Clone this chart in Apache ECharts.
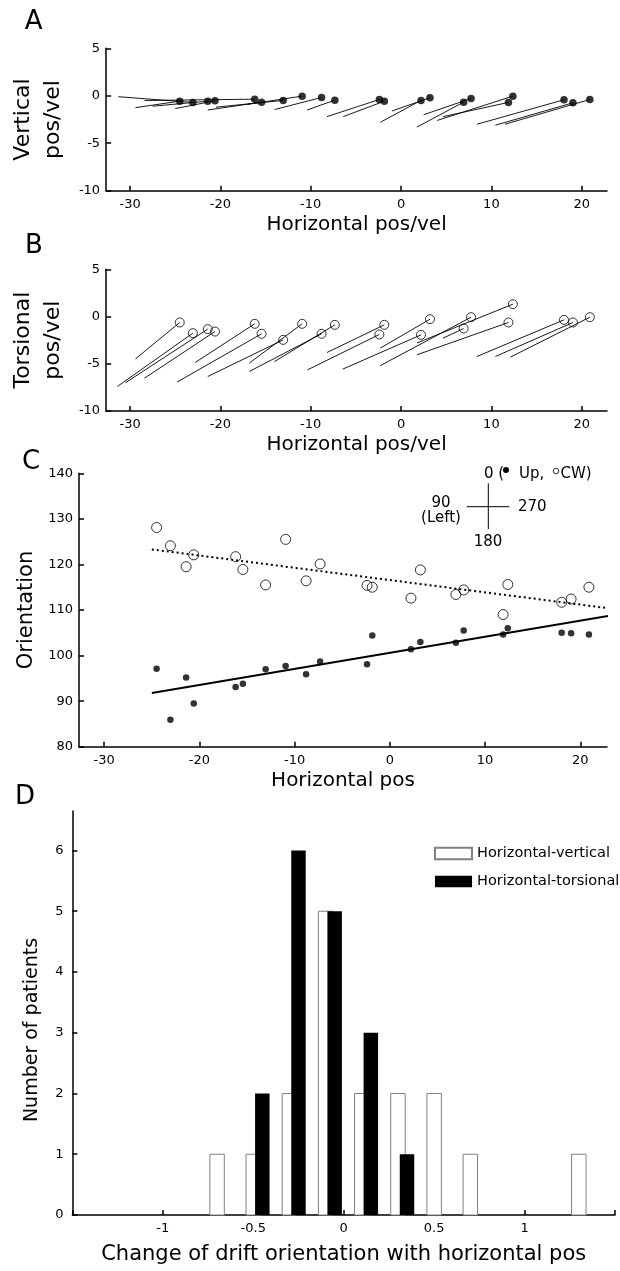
<!DOCTYPE html>
<html>
<head>
<meta charset="utf-8">
<script src="https://cdn.jsdelivr.net/npm/echarts@6/dist/echarts.min.js"></script>
<style>
  html, body { margin: 0; padding: 0; background: #fff; }
  #chart { width: 620px; height: 1271px; }
</style>
</head>
<body>
<div id="chart"></div>
<script>
// data

// horizontal eye position of each patient (shared by A, B, C)
const xPos = [-24.5, -23.05, -21.4, -20.6, -16.2, -15.44, -13.05, -10.95, -8.8, -7.33, -2.4,
              -1.85, 2.21, 3.2, 6.93, 7.75, 11.89, 12.38, 18.04, 19.03, 20.9];

// A: vertical drift, end point (dot) and start of the drift line
const aEndY = [-0.57, -0.70, -0.57, -0.53, -0.36, -0.67, -0.49, -0.04, -0.18, -0.46, -0.39,
               -0.57, -0.49, -0.21, -0.67, -0.28, -0.70, -0.04, -0.42, -0.74, -0.39];
const aStartX = [-29.4, -31.3, -27.5, -25.0, -28.4, -21.4, -20.5, -17.0, -14.0, -10.4, -8.2,
                 -6.4, -2.3, -1.0, 1.75, 2.5, 4.65, 4.0, 8.4, 10.45, 11.5];
const aStartY = [-1.25, -0.1, -1.1, -1.35, -0.5, -1.5, -1.2, -0.9, -1.45, -1.5, -2.2,
                 -2.2, -2.8, -1.6, -3.3, -2.0, -2.2, -2.6, -3.0, -3.1, -3.0];

// B: torsional drift
const bEndY = [-0.63, -1.76, -1.33, -1.59, -0.77, -1.83, -2.47, -0.77, -1.83, -0.88, -1.90,
               -0.88, -1.94, -0.28, -1.27, -0.07, -0.63, 1.31, -0.35, -0.63, -0.07];
const bStartX = [-29.4, -31.4, -30.5, -28.4, -22.8, -24.8, -21.4, -16.8, -16.8, -14.0, -10.35,
                 -8.2, -6.46, -2.3, 4.65, -2.3, 1.76, 1.76, 8.4, 10.45, 12.1];
const bStartY = [-4.48, -7.4, -7.0, -6.52, -4.87, -6.94, -6.35, -4.93, -5.82, -4.76, -5.64,
                 -3.81, -5.57, -3.35, -2.29, -5.2, -4.05, -2.8, -4.23, -4.23, -4.3];

// C: orientation
const cwOrient = [128.1, 124.1, 119.5, 122.1, 121.7, 118.9, 115.5, 125.5, 116.4, 120.1, 115.4,
                  115.0, 112.6, 118.8, 113.4, 114.4, 109.0, 115.6, 111.7, 112.4, 115.0];
const upOrient = [97.1, 85.9, 95.2, 89.5, 93.1, 93.8, 97.0, 97.7, 95.9, 98.7, 98.1,
                  104.4, 101.4, 103.0, 102.8, 105.5, 104.6, 106.0, 105.0, 104.9, 104.6];
const fitX = [-25.0, 22.9];
const upFitY = [91.8, 108.7];
const cwFitY = [123.3, 110.4];

// D: histogram of slopes
const hvBins = [-0.7, -0.5, -0.3, -0.1, 0.1, 0.3, 0.5, 0.7, 1.3];
const hvCounts = [1, 1, 2, 5, 2, 2, 2, 1, 1];
const htBins = [-0.45, -0.25, -0.05, 0.15, 0.35];
const htCounts = [2, 6, 5, 3, 1];

// tick labels
const posTicks = [-30, -20, -10, 0, 10, 20];
const driftTicks = [-10, -5, 0, 5];
const countTicks = [0, 1, 2, 3, 4, 5, 6];
const slopeLabels = [-1, -0.5, 0, 0.5, 1];
const slopeTicks = [-1.5, -1, -0.5, 0, 0.5, 1, 1.5];

// setup

const FONT = '"DejaVu Sans", sans-serif';
const BAR_W = 0.08;

const chart = echarts.init(document.getElementById("chart"), null, { renderer: "canvas" });

function axisBase(extra)
{
    const a = {
        axisLine: { onZero: false, lineStyle: { color: "#000", width: 1.5 } },
        axisTick: { inside: true, length: 5, lineStyle: { color: "#000", width: 1.5 } },
        axisLabel: { color: "#000", fontSize: 13, fontFamily: FONT, margin: 7 },
        splitLine: { show: false },
        nameTextStyle: { color: "#000", fontFamily: FONT, fontSize: 20 }
    };
    return Object.assign(a, extra);
}

function ticks(values)
{
    return { inside: true, length: 5, customValues: values, lineStyle: { color: "#000", width: 1.5 } };
}

function labels(values, margin)
{
    return { color: "#000", fontSize: 13, fontFamily: FONT, margin: margin, customValues: values };
}

function posAxis(idx, name)
{
    return axisBase({
        type: "value", gridIndex: idx, min: -32.65, max: 22.8,
        name: name, nameLocation: "middle", nameGap: 24,
        axisTick: ticks(posTicks),
        axisLabel: labels(posTicks, 7)
    });
}

function driftAxis(idx, name)
{
    return axisBase({
        type: "value", gridIndex: idx, min: -10, max: 5, interval: 5,
        name: name, nameLocation: "middle", nameRotate: 90, nameGap: 16,
        nameTextStyle: { color: "#000", fontFamily: FONT, fontSize: 22, lineHeight: 30 },
        axisTick: ticks(driftTicks),
        axisLabel: labels(driftTicks, 6)
    });
}

function driftLines(startX, startY, endY)
{
    return xPos.map(function (x, i)
    {
        return { coords: [[startX[i], startY[i]], [x, endY[i]]] };
    });
}

function pairs(xs, ys)
{
    return xs.map(function (x, i) { return [x, ys[i]]; });
}

function renderBar(params, api)
{
    const x = api.value(0);
    const y = api.value(1);
    const p0 = api.coord([x - BAR_W / 2, y]);
    const p1 = api.coord([x + BAR_W / 2, 0]);
    return {
        type: "rect",
        shape: { x: p0[0], y: p0[1], width: p1[0] - p0[0], height: p1[1] - p0[1] },
        style: api.style()
    };
}

const openCircle = { color: "rgba(0,0,0,0)", borderColor: "#000", borderWidth: 1 };

function label(text, x, y, size, align)
{
    return {
        type: "text", x: x, y: y,
        style: { text: text, fill: "#000", font: size + "px " + FONT, textAlign: align || "center", textVerticalAlign: "middle" }
    };
}

const option = {
    animation: false,
    backgroundColor: "#fff",
    textStyle: { fontFamily: FONT },
    grid: [
        { left: 79, right: 13, top: 48.3, height: 142.4 },
        { left: 79, right: 13, top: 269.3, height: 141.7 },
        { left: 79, right: 13, top: 473.3, height: 273.4 },
        { left: 72.4, right: 5, top: 811, height: 404 }
    ],
    xAxis: [
        posAxis(0, "Horizontal pos/vel"),
        posAxis(1, "Horizontal pos/vel"),
        posAxis(2, "Horizontal pos"),
        axisBase({
            type: "value", gridIndex: 3, min: -1.5, max: 1.5,
            name: "Change of drift orientation with horizontal pos", nameLocation: "middle", nameGap: 29,
            nameTextStyle: { color: "#000", fontFamily: FONT, fontSize: 21 },
            axisTick: ticks(slopeTicks),
            axisLabel: labels(slopeLabels, 7)
        })
    ],
    yAxis: [
        driftAxis(0, "Vertical\npos/vel"),
        driftAxis(1, "Torsional\npos/vel"),
        axisBase({
            type: "value", gridIndex: 2, min: 80, max: 140, interval: 10,
            name: "Orientation", nameLocation: "middle", nameRotate: 90, nameGap: 42,
            nameTextStyle: { color: "#000", fontFamily: FONT, fontSize: 21 },
            axisLabel: { color: "#000", fontSize: 13, fontFamily: FONT, margin: 6 }
        }),
        axisBase({
            type: "value", gridIndex: 3, min: 0, max: 6.65,
            name: "Number of patients", nameLocation: "middle", nameRotate: 90, nameGap: 31,
            nameTextStyle: { color: "#000", fontFamily: FONT, fontSize: 19, padding: [0, 34, 0, 0] },
            axisTick: ticks(countTicks),
            axisLabel: labels(countTicks, 9)
        })
    ],
    legend: {
        orient: "vertical", left: 429, top: 840, itemWidth: 37, itemHeight: 11.5, itemGap: 11,
        icon: "rect", selectedMode: false,
        textStyle: { color: "#000", fontFamily: FONT, fontSize: 14.5, lineHeight: 17 },
        data: ["Horizontal-vertical", "Horizontal-torsional"]
    },
    graphic: [
        label("A", 33.6, 22.5, 26),
        label("B", 34, 246.5, 26),
        label("C", 31, 462.5, 26),
        label("D", 25, 797, 26),
        // orientation key in C
        { type: "line", shape: { x1: 488.3, y1: 483.3, x2: 488.3, y2: 529 }, style: { stroke: "#000", lineWidth: 1 } },
        { type: "line", shape: { x1: 466.7, y1: 506.7, x2: 509.3, y2: 506.7 }, style: { stroke: "#000", lineWidth: 1 } },
        label("0 (", 484, 474, 15, "left"),
        { type: "circle", shape: { cx: 506, cy: 470, r: 3 }, style: { fill: "#000" } },
        label("Up,", 519, 474, 15, "left"),
        { type: "circle", shape: { cx: 556, cy: 471, r: 2.8 }, style: { fill: "none", stroke: "#000", lineWidth: 0.8 } },
        label("CW)", 560.5, 474, 15, "left"),
        label("90", 441, 503, 15),
        label("(Left)", 441, 518.5, 15),
        label("270", 518, 506.7, 15, "left"),
        label("180", 488, 541.7, 15)
    ],
    series: [
        {
            type: "lines", coordinateSystem: "cartesian2d", xAxisIndex: 0, yAxisIndex: 0, silent: true,
            lineStyle: { color: "#000", width: 0.9, opacity: 1, curveness: 0 },
            data: driftLines(aStartX, aStartY, aEndY)
        },
        {
            type: "scatter", xAxisIndex: 0, yAxisIndex: 0, symbolSize: 7.5,
            itemStyle: { color: "#000" }, data: pairs(xPos, aEndY)
        },
        {
            type: "lines", coordinateSystem: "cartesian2d", xAxisIndex: 1, yAxisIndex: 1, silent: true,
            lineStyle: { color: "#000", width: 0.9, opacity: 1, curveness: 0 },
            data: driftLines(bStartX, bStartY, bEndY)
        },
        {
            type: "scatter", xAxisIndex: 1, yAxisIndex: 1, symbolSize: 9,
            itemStyle: openCircle, data: pairs(xPos, bEndY)
        },
        {
            type: "line", xAxisIndex: 2, yAxisIndex: 2, showSymbol: false, silent: true,
            lineStyle: { color: "#000", width: 2 }, data: pairs(fitX, upFitY)
        },
        {
            type: "line", xAxisIndex: 2, yAxisIndex: 2, showSymbol: false, silent: true,
            lineStyle: { color: "#000", width: 2, type: [2, 3] }, data: pairs(fitX, cwFitY)
        },
        {
            type: "scatter", xAxisIndex: 2, yAxisIndex: 2, symbolSize: 10,
            itemStyle: openCircle, data: pairs(xPos, cwOrient)
        },
        {
            type: "scatter", xAxisIndex: 2, yAxisIndex: 2, symbolSize: 6.5,
            itemStyle: { color: "#000" }, data: pairs(xPos, upOrient)
        },
        {
            name: "Horizontal-vertical", type: "custom", xAxisIndex: 3, yAxisIndex: 3,
            renderItem: renderBar,
            itemStyle: { color: "#fff", borderColor: "#808080", borderWidth: 1 },
            data: pairs(hvBins, hvCounts)
        },
        {
            name: "Horizontal-torsional", type: "custom", xAxisIndex: 3, yAxisIndex: 3,
            renderItem: renderBar,
            itemStyle: { color: "#000" },
            data: pairs(htBins, htCounts)
        }
    ]
};

chart.setOption(option);
</script>
</body>
</html>
